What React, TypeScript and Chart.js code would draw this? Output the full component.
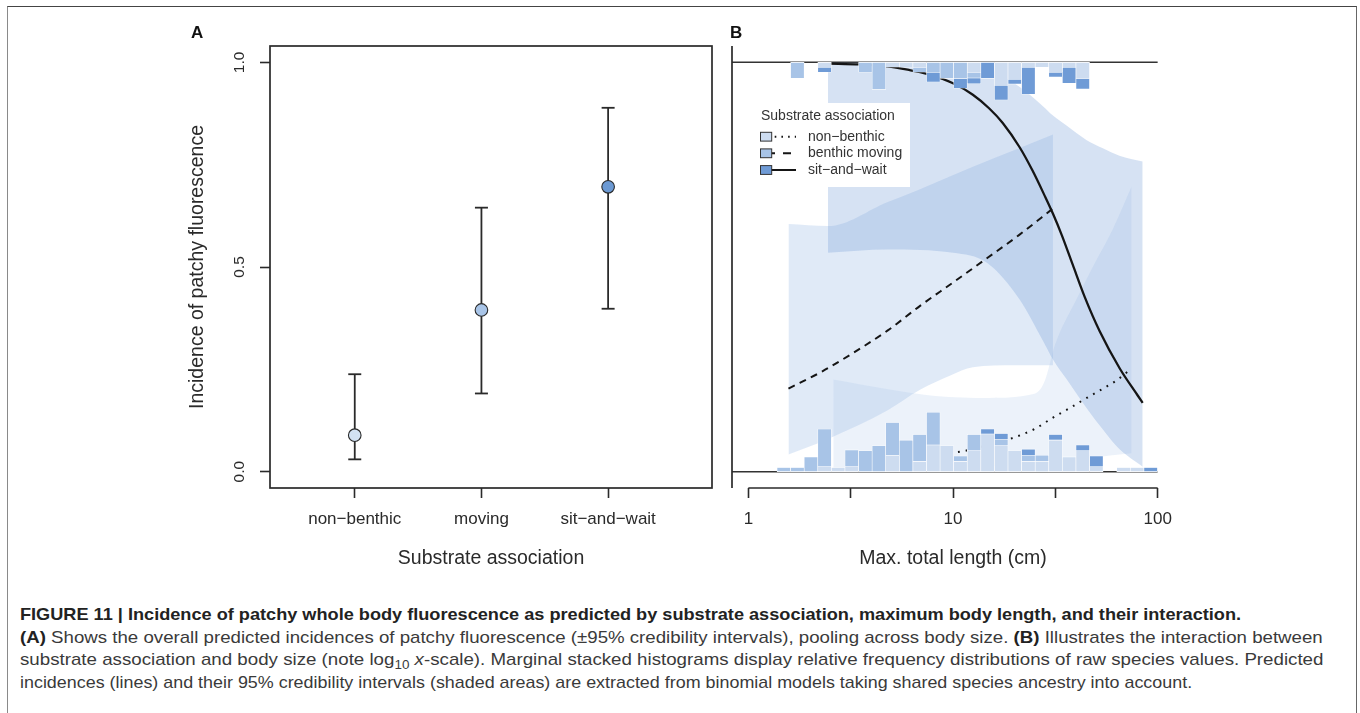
import React, { useEffect, useLayoutEffect, useRef } from "react";
import { Chart, registerables } from "chart.js";

Chart.register(...registerables);

const FONT = "'Liberation Sans', Arial, Helvetica, sans-serif";
const INK = "#2a2a2a";

// ---------------- Panel A data ----------------
const categoryLabels = ["non−benthic", "moving", "sit−and−wait"];
const categoryPositions = [1, 2, 3];
const overallIncidence = [0.089, 0.395, 0.696];
const overallLower95 = [0.03, 0.191, 0.398];
const overallUpper95 = [0.238, 0.645, 0.889];
const incidenceTicks = [0, 0.5, 1];

// ---------------- Panel B data ----------------
const seriesNames = ["non−benthic", "benthic moving", "sit−and−wait"];
const seriesColors = ["#cddcf0", "#a8c4e7", "#6f9bd6"];
const pointColors = ["#d2e1f2", "#a9c5e8", "#6b99d3"];
const bandColors = ["rgba(205,222,242,0.38)", "rgba(170,198,232,0.36)", "rgba(120,160,215,0.30)"];

const lengthTicksCm = [1, 3.162, 10, 31.62, 100];
const lengthTickLabels = ["1", "", "10", "", "100"];
const referenceLevels = [0, 1];
const referenceSpanCm = [0.832, 100];

const histBinCentresCm = [
  1.49, 1.736, 2.023, 2.357, 2.747, 3.2, 3.729, 4.345, 5.063, 5.899, 6.875, 8.01, 9.333, 10.87,
  12.67, 14.76, 17.2, 20.04, 23.35, 27.22, 31.71, 36.94, 43.05, 50.16, 58.45, 68.1, 79.36, 92.47,
];
// marginal histogram at 0 (species without patchy fluorescence), stacked upward
const bottomNonBenthic = [0, 0, 0, 0.012, 0.01, 0.012, 0, 0, 0.039, 0, 0.025, 0.065, 0.063, 0.025, 0.051, 0.092, 0.063, 0.051, 0.025, 0.025, 0.077, 0.036, 0.051, 0.012, 0, 0.01, 0.01, 0];
const bottomMoving = [0.01, 0.01, 0.036, 0.092, 0, 0.041, 0.051, 0.063, 0.081, 0.077, 0.066, 0.08, 0, 0.013, 0.04, 0, 0.016, 0, 0.015, 0.015, 0, 0, 0, 0, 0, 0, 0, 0];
const bottomSitWait = [0, 0, 0, 0, 0, 0, 0, 0, 0, 0, 0, 0, 0, 0, 0, 0.012, 0.014, 0, 0.015, 0, 0.014, 0, 0.014, 0.026, 0, 0, 0, 0.01];
// marginal histogram at 1 (species with patchy fluorescence), stacked downward
const topNonBenthic = [0, 0, 0, 0.012, 0, 0, 0, 0, 0.012, 0.012, 0.012, 0, 0, 0, 0.024, 0, 0.056, 0.041, 0.012, 0.012, 0.024, 0.012, 0.039, 0, 0, 0, 0, 0];
const topMoving = [0, 0.039, 0, 0, 0, 0, 0.024, 0.066, 0, 0, 0.012, 0.024, 0.039, 0.039, 0.014, 0, 0, 0, 0, 0, 0, 0, 0, 0, 0, 0, 0, 0];
const topSitWait = [0, 0, 0, 0.012, 0, 0, 0, 0, 0, 0, 0, 0.024, 0, 0.024, 0.014, 0.039, 0.036, 0.012, 0.066, 0, 0.012, 0.039, 0.026, 0, 0, 0, 0, 0];

// predicted incidences
const nonLineCm = [9.7, 12, 14, 19, 25, 30.8, 38, 45, 55, 63, 74.6];
const nonLineIncidence = [0.045, 0.053, 0.062, 0.08, 0.104, 0.132, 0.158, 0.18, 0.205, 0.223, 0.252];
const movingLineCm = [1.57, 2.3, 3.25, 4.8, 6.9, 10, 14.7, 21, 30.8];
const movingLineIncidence = [0.203, 0.245, 0.29, 0.345, 0.405, 0.462, 0.522, 0.578, 0.643];
const sitLineCm = [2.45, 3.5, 4.76, 6, 7.46, 10, 12.5, 15, 17.5, 21.2, 24.5, 28, 30.8, 34, 38.5, 44, 52.1, 65.3, 79.9, 84.5];
const sitLineIncidence = [0.997, 0.995, 0.99, 0.982, 0.972, 0.949, 0.921, 0.888, 0.852, 0.792, 0.735, 0.675, 0.63, 0.578, 0.505, 0.427, 0.343, 0.252, 0.186, 0.168];

// 95% credibility intervals
const nonBandCm = [2.6, 5, 8.2, 15, 25, 28, 31.5, 40, 50, 60, 74.6];
const nonBandUpper = [0.225, 0.2, 0.185, 0.18, 0.19, 0.22, 0.31, 0.42, 0.515, 0.59, 0.697];
const nonBandLower = [0.003, 0.005, 0.008, 0.013, 0.02, 0.022, 0.025, 0.03, 0.035, 0.04, 0.045];
const movingBandCm = [1.57, 2.45, 4.8, 6.9, 9.7, 12.5, 20, 30.8];
const movingBandUpper = [0.605, 0.6, 0.659, 0.69, 0.722, 0.745, 0.786, 0.824];
const movingBandLower = [0.042, 0.08, 0.15, 0.2, 0.235, 0.255, 0.26, 0.26];
const sitBandCm = [2.45, 4.8, 10, 14.7, 21.2, 27.5, 30.8, 36, 45, 54, 65, 84.5];
const sitBandUpper = [0.999, 0.999, 0.998, 0.985, 0.94, 0.893, 0.87, 0.845, 0.81, 0.79, 0.772, 0.758];
const sitBandLower = [0.535, 0.543, 0.535, 0.51, 0.42, 0.32, 0.274, 0.225, 0.155, 0.103, 0.055, 0.012];

// ---------------- helpers ----------------
const pts = (xs: number[], ys: number[]) => xs.map((x, i) => ({ x, y: ys[i] }));

function stackedBars(layers: number[][], fromTop: boolean) {
  const cum = histBinCentresCm.map(() => 0);
  return layers.map((layer, c) => {
    const data = histBinCentresCm.map((x, i) => {
      const h = layer[i];
      const lo = cum[i];
      cum[i] += h;
      if (!h) return { x, y: null as any };
      return { x, y: fromTop ? [1 - (lo + h), 1 - lo] : [lo, lo + h] };
    });
    return {
      type: "bar" as const,
      data,
      backgroundColor: seriesColors[c],
      borderColor: "#ffffff",
      borderWidth: 0.6,
      borderSkipped: false,
      grouped: false,
      barPercentage: 1,
      categoryPercentage: 1,
      order: 0,
    };
  });
}

function bandPair(xs: number[], up: number[], lo: number[], color: string, order: number) {
  const common = {
    type: "line" as const,
    borderColor: "rgba(0,0,0,0)",
    borderWidth: 0,
    pointRadius: 0,
    cubicInterpolationMode: "monotone" as const,
    order,
  };
  return [
    { ...common, data: pts(xs, up), fill: false },
    { ...common, data: pts(xs, lo), fill: "-1", backgroundColor: color },
  ];
}

function curve(xs: number[], ys: number[], dash: number[], width: number) {
  return {
    type: "line" as const,
    data: pts(xs, ys),
    borderColor: "#151515",
    borderWidth: width,
    borderDash: dash,
    borderCapStyle: "butt" as const,
    pointRadius: 0,
    fill: false,
    cubicInterpolationMode: "monotone" as const,
    order: 1,
  };
}

const axisTickFont = { family: FONT, size: 17 };
const axisTitleFont = { family: FONT, size: 19.5 };

// ---------------- Panel A ----------------
const boxPlugin = {
  id: "rBox",
  afterDraw(chart: any) {
    const { ctx, chartArea: a } = chart;
    ctx.save();
    ctx.strokeStyle = INK;
    ctx.lineWidth = 1.7;
    ctx.strokeRect(a.left, a.top, a.right - a.left, a.bottom - a.top);
    ctx.restore();
  },
};

function PanelA() {
  const ref = useRef<HTMLCanvasElement>(null);
  useEffect(() => {
    const caps = [
      ...categoryPositions.map((x, i) => ({ x, y: overallLower95[i] })),
      ...categoryPositions.map((x, i) => ({ x, y: overallUpper95[i] })),
    ];
    const chart = new Chart(ref.current as HTMLCanvasElement, {
      type: "scatter",
      data: {
        datasets: [
          {
            type: "scatter",
            data: pts(categoryPositions, overallIncidence),
            pointRadius: 6.3,
            pointBackgroundColor: pointColors,
            pointBorderColor: "#2a2a2a",
            pointBorderWidth: 1.1,
            order: 0,
          } as any,
          {
            type: "scatter",
            data: caps,
            pointStyle: "line",
            pointRadius: 6.5,
            pointBorderColor: INK,
            pointBorderWidth: 1.8,
            order: 1,
          } as any,
          {
            type: "bar",
            data: categoryPositions.map((x, i) => ({ x, y: [overallLower95[i], overallUpper95[i]] })),
            backgroundColor: INK,
            grouped: false,
            maxBarThickness: 1.8,
            order: 2,
          } as any,
        ],
      },
      options: {
        animation: false,
        responsive: false,
        maintainAspectRatio: false,
        events: [],
        layout: { padding: { left: 0, top: 25, right: 13, bottom: 10 } },
        plugins: { legend: { display: false }, tooltip: { enabled: false } },
        scales: {
          x: {
            type: "linear",
            min: 0.331,
            max: 3.82,
            offset: false,
            afterBuildTicks: (s: any) => {
              s.ticks = categoryPositions.map((v) => ({ value: v }));
            },
            afterFit: (s: any) => {
              s.height = 90;
            },
            grid: { display: true, drawOnChartArea: false, drawTicks: true, tickLength: 10, tickWidth: 1.6, tickColor: INK, offset: false },
            border: { display: false },
            ticks: {
              autoSkip: false,
              maxRotation: 0,
              padding: 11,
              font: axisTickFont,
              color: INK,
              callback: (v: any) => {
                const i = categoryPositions.indexOf(Number(v));
                return i >= 0 ? categoryLabels[i] : "";
              },
            },
            title: { display: true, text: "Substrate association", font: axisTitleFont, color: INK, padding: { top: 0, bottom: 7.3 } },
          },
          y: {
            type: "linear",
            min: -0.04,
            max: 1.04,
            afterBuildTicks: (s: any) => {
              s.ticks = incidenceTicks.map((v) => ({ value: v }));
            },
            afterFit: (s: any) => {
              s.width = 90;
            },
            grid: { display: true, drawOnChartArea: false, drawTicks: true, tickLength: 10, tickWidth: 1.6, tickColor: INK },
            border: { display: false },
            ticks: {
              minRotation: 90,
              maxRotation: 90,
              crossAlign: "center",
              padding: 9.6,
              font: { family: FONT, size: 15.5 },
              color: INK,
              callback: (v: any) => Number(v).toFixed(1),
            },
            title: { display: true, text: "Incidence of patchy fluorescence", font: axisTitleFont, color: INK, padding: { top: 6.3, bottom: 0 } },
          },
        },
      } as any,
      plugins: [boxPlugin],
    });
    return () => chart.destroy();
  }, []);
  return <canvas ref={ref} width={545} height={567} style={{ position: "absolute", left: 180, top: 21, width: 545, height: 567 }} />;
}

// ---------------- Panel B ----------------
const panelBDecor = {
  id: "panelBDecor",
  afterDatasetsDraw(chart: any) {
    const { ctx, chartArea: a } = chart;
    const L = a.left;
    const T = a.top;
    ctx.save();
    // legend box
    ctx.fillStyle = "#ffffff";
    ctx.fillRect(L + 21, T + 57, 157, 84);
    ctx.fillStyle = "#333333";
    ctx.font = `14px ${FONT}`;
    ctx.textBaseline = "middle";
    ctx.textAlign = "left";
    ctx.fillText("Substrate association", L + 29, T + 70);
    const rows = [T + 90.7, T + 107.3, T + 124];
    const dashes = [[1.6, 5.1], [8, 8], []];
    const offsets = [-2, -1, 0];
    rows.forEach((y, i) => {
      ctx.strokeStyle = "#151515";
      ctx.lineWidth = 2;
      ctx.setLineDash(dashes[i]);
      ctx.lineDashOffset = offsets[i];
      ctx.beginPath();
      ctx.moveTo(L + 34, y);
      ctx.lineTo(L + 64, y);
      ctx.stroke();
      ctx.setLineDash([]);
      ctx.fillStyle = seriesColors[i];
      ctx.fillRect(L + 28, y - 4.4, 11.7, 8.8);
      ctx.lineWidth = 1;
      ctx.strokeStyle = "#333333";
      ctx.strokeRect(L + 28.5, y - 4.4, 11.2, 8.8);
      ctx.fillStyle = "#333333";
      ctx.fillText(seriesNames[i], L + 76, y);
    });
    ctx.restore();
  },
  afterDraw(chart: any) {
    const { ctx, chartArea: a, scales } = chart;
    const xs = scales.x;
    ctx.save();
    ctx.strokeStyle = INK;
    ctx.lineWidth = 1.7;
    ctx.beginPath();
    ctx.moveTo(a.left, a.top);
    ctx.lineTo(a.left, a.bottom);
    ctx.stroke();
    ctx.beginPath();
    ctx.moveTo(xs.getPixelForValue(lengthTicksCm[0]), a.bottom);
    ctx.lineTo(xs.getPixelForValue(lengthTicksCm[lengthTicksCm.length - 1]), a.bottom);
    ctx.stroke();
    ctx.restore();
  },
};

function PanelB() {
  const ref = useRef<HTMLCanvasElement>(null);
  useEffect(() => {
    const datasets: any[] = [
      ...stackedBars([bottomNonBenthic, bottomMoving, bottomSitWait], false),
      ...stackedBars([topNonBenthic, topMoving, topSitWait], true),
      curve(nonLineCm, nonLineIncidence, [1.8, 6], 2),
      curve(movingLineCm, movingLineIncidence, [7, 5.5], 2),
      curve(sitLineCm, sitLineIncidence, [], 2.3),
      ...bandPair(sitBandCm, sitBandUpper, sitBandLower, bandColors[2], 2),
      ...bandPair(movingBandCm, movingBandUpper, movingBandLower, bandColors[1], 3),
      ...bandPair(nonBandCm, nonBandUpper, nonBandLower, bandColors[0], 4),
      ...referenceLevels.map((lvl) => ({
        type: "line",
        data: referenceSpanCm.map((x) => ({ x, y: lvl })),
        borderColor: "#333333",
        borderWidth: 1.5,
        pointRadius: 0,
        fill: false,
        order: 5,
      })),
    ];
    const chart = new Chart(ref.current as HTMLCanvasElement, {
      type: "bar",
      data: { datasets },
      options: {
        animation: false,
        responsive: false,
        maintainAspectRatio: false,
        events: [],
        layout: { padding: { left: 32, top: 25, right: 26, bottom: 10 } },
        plugins: { legend: { display: false }, tooltip: { enabled: false } },
        scales: {
          x: {
            type: "logarithmic",
            min: 0.8318,
            max: 120.2,
            bounds: "data",
            offset: false,
            afterBuildTicks: (s: any) => {
              s.ticks = lengthTicksCm.map((v) => ({ value: v }));
            },
            afterFit: (s: any) => {
              s.height = 90;
            },
            grid: { display: true, drawOnChartArea: false, drawTicks: true, tickLength: 10, tickWidth: 1.6, tickColor: INK, offset: false },
            border: { display: false },
            ticks: {
              autoSkip: false,
              maxRotation: 0,
              padding: 11,
              font: axisTickFont,
              color: INK,
              callback: (_v: any, i: number) => lengthTickLabels[i] ?? "",
            },
            title: { display: true, text: "Max. total length (cm)", font: axisTitleFont, color: INK, padding: { top: 0, bottom: 7.3 } },
          },
          y: {
            type: "linear",
            display: false,
            min: -0.04,
            max: 1.04,
          },
        },
      } as any,
      plugins: [panelBDecor],
    });
    return () => chart.destroy();
  }, []);
  return <canvas ref={ref} width={500} height={567} style={{ position: "absolute", left: 700, top: 21, width: 500, height: 567 }} />;
}

// ---------------- Caption ----------------
function FitLine(props: { top: number; width: number; weight?: number; color?: string; children: React.ReactNode }) {
  const ref = useRef<HTMLSpanElement>(null);
  useLayoutEffect(() => {
    const el = ref.current;
    if (!el) return;
    el.style.transform = "none";
    const w = el.offsetWidth;
    if (w > 0) el.style.transform = `scaleX(${props.width / w})`;
  });
  return (
    <div
      style={{
        position: "absolute",
        left: 20,
        top: props.top,
        height: 22,
        lineHeight: "22px",
        whiteSpace: "nowrap",
        fontFamily: FONT,
        fontSize: 17,
        fontWeight: props.weight ?? 400,
        color: props.color ?? "#3a3a3a",
      }}
    >
      <span ref={ref} style={{ display: "inline-block", transformOrigin: "0 50%" }}>
        {props.children}
      </span>
    </div>
  );
}

export default function App() {
  return (
    <div style={{ position: "fixed", left: 0, top: 0, width: 1360, height: 713, background: "#ffffff", overflow: "hidden" }}>
      <div
        style={{
          position: "absolute",
          left: 7,
          top: 6,
          width: 1348,
          height: 760,
          borderTop: "1.5px solid #444",
          borderLeft: "1.5px solid #8a8a8a",
          borderRight: "1.5px solid #666",
        }}
      />
      <PanelA />
      <PanelB />
      <div style={{ position: "absolute", left: 191, top: 22, fontFamily: FONT, fontWeight: 700, fontSize: 17, lineHeight: "22px", color: "#111" }}>A</div>
      <div style={{ position: "absolute", left: 730, top: 22, fontFamily: FONT, fontWeight: 700, fontSize: 17, lineHeight: "22px", color: "#111" }}>B</div>

      <FitLine top={604} width={1221} weight={700} color="#222">
        FIGURE 11 | Incidence of patchy whole body fluorescence as predicted by substrate association, maximum body length, and their interaction.
      </FitLine>
      <FitLine top={627} width={1303}>
        <b style={{ color: "#222" }}>(A)</b> Shows the overall predicted incidences of patchy fluorescence (±95% credibility intervals), pooling across body size.{" "}
        <b style={{ color: "#222" }}>(B)</b> Illustrates the interaction between
      </FitLine>
      <FitLine top={649} width={1303}>
        substrate association and body size (note log<sub style={{ fontSize: "0.72em", verticalAlign: "-0.3em", lineHeight: 0 }}>10</sub> <i>x</i>-scale). Marginal stacked histograms display relative frequency distributions of raw species values. Predicted
      </FitLine>
      <FitLine top={672} width={1172}>
        incidences (lines) and their 95% credibility intervals (shaded areas) are extracted from binomial models taking shared species ancestry into account.
      </FitLine>
    </div>
  );
}
